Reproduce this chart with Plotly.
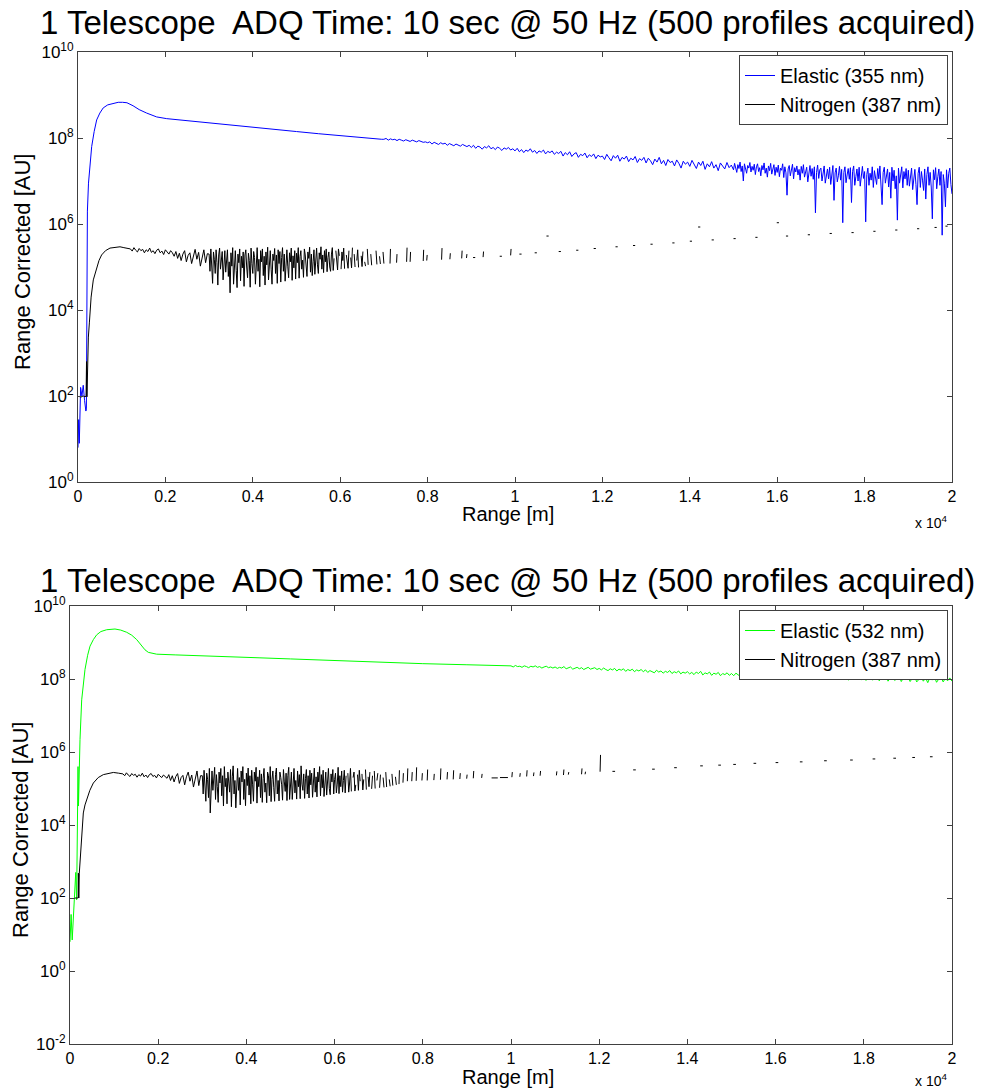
import plotly.graph_objects as go

FONT = "Liberation Sans, Arial, sans-serif"
PAGE_OFFSET = 8                    # default body margin of the html page
FIG_W, FIG_H = 983 - PAGE_OFFSET, 1090 - PAGE_OFFSET

# ---------------- data ----------------
title_text = "1 Telescope\u00a0 ADQ Time: 10 sec @ 50 Hz (500 profiles acquired)"
x_tick_vals = [0, 2000, 4000, 6000, 8000, 10000, 12000, 14000, 16000, 18000, 20000]
x_tick_text = ["0", "0.2", "0.4", "0.6", "0.8", "1", "1.2", "1.4", "1.6", "1.8", "2"]
top_y_tick_exponents = [0, 2, 4, 6, 8, 10]
bottom_y_tick_exponents = [-2, 0, 2, 4, 6, 8, 10]

# all signal values are log10(Range Corrected [AU]); ranges in metres
# ---- top panel: Elastic 355 nm ----
elastic355_near_range = [0, 15, 30, 60, 90, 120, 150, 180, 192, 200,
                         215, 240, 275, 313, 370, 427, 500, 577, 680, 807,
                         920, 1020, 1120, 1260, 1400, 1570, 1700, 1800, 2030, 2500,
                         3000, 3500, 4000, 4500, 5000, 5500, 6000, 6500, 6950]
elastic355_near_log10 = [0.80, 1.45, 0.90, 2.20, 2.00, 2.25, 1.90, 1.65, 1.70, 5.60,
                         6.30, 6.95, 7.40, 7.80, 8.15, 8.42, 8.58, 8.70, 8.77, 8.81,
                         8.83, 8.83, 8.82, 8.75, 8.66, 8.58, 8.52, 8.49, 8.45, 8.40,
                         8.35, 8.30, 8.25, 8.20, 8.15, 8.10, 8.05, 8.01, 7.97]
elastic355_mid_start, elastic355_mid_step = 7000, 50
elastic355_mid_log10 = [
    7.97, 7.99, 7.95, 7.98, 7.96, 7.97, 7.94, 7.97, 7.95, 7.93, 7.96, 7.94, 7.92, 7.95, 7.93, 7.91, 7.94, 7.92, 7.90, 7.91,
    7.89, 7.91, 7.86, 7.90, 7.87, 7.85, 7.89, 7.86, 7.88, 7.83, 7.87, 7.85, 7.82, 7.86, 7.84, 7.81, 7.85, 7.82, 7.80, 7.83,
    7.78, 7.83, 7.76, 7.81, 7.79, 7.74, 7.80, 7.77, 7.82, 7.75, 7.78, 7.73, 7.79, 7.76, 7.71, 7.77, 7.74, 7.78, 7.72, 7.75,
    7.70, 7.76, 7.68, 7.73, 7.66, 7.72, 7.69, 7.75, 7.67, 7.71, 7.64, 7.70, 7.67, 7.72, 7.63, 7.69, 7.66, 7.70, 7.62, 7.67,
    7.64, 7.69, 7.58, 7.66, 7.61, 7.68, 7.57, 7.63, 7.66, 7.55, 7.62, 7.59, 7.65, 7.54, 7.61, 7.57, 7.63, 7.52, 7.60, 7.56,
    7.58, 7.50, 7.62, 7.54, 7.47, 7.59, 7.53, 7.60, 7.46, 7.55, 7.51, 7.58, 7.45, 7.53, 7.49, 7.57, 7.43, 7.52, 7.48, 7.55,
    7.42, 7.53, 7.47, 7.38, 7.51, 7.44, 7.55, 7.40, 7.48, 7.36, 7.50, 7.43, 7.46, 7.35, 7.49, 7.41, 7.30, 7.46, 7.39, 7.44,
    7.34, 7.48, 7.38, 7.29, 7.44, 7.36, 7.46, 7.27, 7.40, 7.33, 7.45, 7.30, 7.38, 7.24, 7.42, 7.35, 7.28, 7.43, 7.31, 7.37]
elastic355_far_start, elastic355_far_step = 15000, 25
elastic355_far_log10 = [
    7.26, 7.41, 7.32, 7.20, 7.38, 7.29, 7.44, 7.22, 7.35, 7.00, 7.40, 7.27, 7.18, 7.36, 7.30, 7.43, 7.21, 7.34, 7.25, 7.39,
    7.15, 7.33, 7.40, 7.22, 7.31, 7.12, 7.36, 7.26, 7.42, 7.18, 7.30, 7.09, 7.35, 7.24, 7.41, 7.16, 7.28, 7.38, 7.13, 7.32,
    7.20, 7.37, 7.10, 7.30, 7.25, 7.40, 7.08, 7.33, 7.19, 6.67, 7.28, 7.36, 7.12, 7.24, 7.39, 7.05, 7.31, 7.21, 7.35, 7.14,
    7.27, 7.02, 7.34, 7.18, 7.38, 7.09, 7.25, 7.32, 6.98, 7.22, 7.36, 7.11, 7.29, 7.04, 7.33, 6.26, 7.20, 7.37, 7.06, 7.26,
    7.30, 7.00, 7.21, 7.35, 6.95, 7.15, 7.28, 7.05, 7.32, 6.92, 7.24, 7.36, 6.55, 7.19, 7.30, 6.98, 7.12, 7.34, 7.02, 7.27,
    6.03, 7.20, 7.33, 6.96, 7.14, 7.29, 7.04, 7.31, 6.50, 7.22, 7.35, 6.90, 7.10, 7.28, 7.00, 7.32, 6.88, 7.18, 7.34, 7.06,
    7.22, 6.05, 7.15, 7.30, 6.90, 7.18, 7.02, 7.33, 6.85, 7.24, 7.10, 6.92, 7.29, 7.05, 7.35, 6.88, 6.45, 7.20, 7.32, 6.95,
    7.14, 7.28, 6.86, 7.20, 6.60, 7.32, 7.00, 7.25, 6.82, 7.12, 6.09, 7.30, 6.95, 7.18, 7.33, 6.84, 7.22, 7.05, 7.29, 6.90,
    7.25, 6.88, 7.12, 7.30, 6.80, 7.08, 7.27, 6.92, 6.45, 7.18, 7.32, 6.85, 7.22, 7.02, 6.78, 7.28, 6.58, 7.15, 7.33, 6.90,
    7.20, 6.86, 6.12, 7.26, 7.03, 7.31, 6.82, 7.10, 7.28, 6.90, 7.22, 5.74, 7.15, 6.95, 6.40, 7.26, 6.84, 7.18, 7.30, 6.92,
    6.70]

# ---- top panel: Nitrogen 387 nm ----
nitrogen387_top_near_range = [40, 80, 120, 160, 185, 195, 205, 220, 237, 260, 275,
                              300, 350, 427, 480, 540, 630, 732, 850, 961, 1050, 1150]
nitrogen387_top_near_log10 = [1.98, 1.98, 2.00, 1.98, 2.00, 2.80, 1.98, 2.90, 3.37, 3.70, 3.93,
                              4.30, 4.70, 5.00, 5.15, 5.28, 5.38, 5.44, 5.46, 5.47, 5.45, 5.43]
nitrogen387_top_mid_start, nitrogen387_top_mid_step = 1200, 40
nitrogen387_top_mid_log10 = [
    5.42, 5.37, 5.45, 5.39, 5.35, 5.43, 5.38, 5.41, 5.33, 5.40, 5.36, 5.44, 5.34, 5.38, 5.31, 5.39, 5.42, 5.33, 5.37, 5.29, 5.40, 5.35, 5.30, 5.38, 5.33,
    5.25, 5.36, 5.20, 5.32, 5.15, 5.30, 5.38, 5.12, 5.27, 5.33, 5.08, 5.29, 5.41, 5.18, 5.34, 5.02, 5.25, 5.40, 5.10, 5.31]
nitrogen387_top_far_start, nitrogen387_top_far_step = 3000, 20
nitrogen387_top_far_log10 = [
    5.30, 4.90, 5.42, 5.05, 4.62, 5.35, 5.18, 4.85, 5.40, 5.10, 4.58, 5.28, 5.44, 4.95, 5.22, 5.36, 4.70, 5.15, 5.38, 4.88,
    5.25, 5.40, 4.78, 5.12, 4.40, 5.33, 5.02, 5.45, 4.60, 5.20, 5.38, 4.92, 4.52, 5.30, 5.10, 5.42, 4.68, 5.25, 4.98, 5.35,
    4.55, 5.28, 5.40, 5.00, 4.75, 5.32, 5.15, 4.53, 5.44, 5.08, 4.85, 5.36, 5.22, 4.60, 5.30, 5.45, 4.90, 5.18, 4.54, 5.38,
    5.12, 5.42, 4.80, 5.25, 4.58, 5.35, 5.05, 5.46, 4.70, 5.20, 5.38, 4.95, 4.60, 5.30, 5.15, 5.43, 4.85, 5.28, 4.62, 5.40,
    5.08, 5.36, 4.65, 5.22, 5.45, 4.90, 5.30, 4.67, 5.18, 5.40, 5.02, 4.75, 5.33, 5.12, 5.44, 4.69, 5.26, 4.98, 5.38, 4.72,
    5.32, 5.10, 5.45, 4.74, 5.24, 5.38, 4.95, 5.16, 4.76, 5.42, 5.28, 5.02, 4.78, 5.35, 5.20, 5.46, 4.88, 5.30, 4.80, 5.12,
    5.40, 4.83, 5.25, 5.44, 5.05, 4.85, 5.33, 5.18, 5.47, 4.95, 5.28, 4.87, 5.38, 5.12, 5.42, 4.89, 5.22, 5.35, 5.00, 4.90,
    5.30, 5.45, 4.92, 5.20, None, 5.38, 5.08, 4.93, 5.42, 5.26, None, 4.95, 5.35, 5.15, 5.44, 4.96, None, 5.28, 5.10, 4.97,
    5.38, None, 5.22, 4.98, 5.45, None, 5.30, 5.00, None, 5.15, 5.40, 4.99, None, None, 5.26, 5.01, 5.36, None, 5.12, 5.02,
    None, 5.42, 5.05, None, None, 5.30, 5.04, None, 5.20, None, None, 5.38, 5.06, None, None, 5.25, 5.07, None, None, 5.35,
    5.08]
# isolated short pieces left beyond the noisy range: start/end range and start/end value
nitrogen387_top_piece_r0 = [7140, 7290, 7520, 7600, 7900, 7980, 8320, 8510, 8780, 8890, 9040, 9270, 9650, 9900,
                            10100, 10450, 10720, 11000, 11400, 11800, 12300, 12700, 13100, 13600, 14000, 14190,
                            14500, 15000, 15500, 15990, 16200, 16700, 17200, 17700, 18200, 18700, 19200, 19600, 19850]
nitrogen387_top_piece_r1 = [7150, 7300, 7530, 7610, 7910, 7990, 8330, 8520, 8790, 8900, 9090, 9280, 9700, 9910,
                            10150, 10500, 10770, 11050, 11450, 11850, 12350, 12750, 13150, 13650, 14050, 14240,
                            14550, 15050, 15550, 16040, 16250, 16750, 17250, 17750, 18250, 18750, 19250, 19650, 19900]
nitrogen387_top_piece_v0 = [5.08, 5.10, 5.12, 5.12, 5.14, 5.15, 5.17, 5.18, 5.20, 5.21, 5.22, 5.23, 5.25, 5.27,
                            5.30, 5.33, 5.72, 5.36, 5.39, 5.43, 5.47, 5.50, 5.53, 5.56, 5.60, 5.93,
                            5.63, 5.66, 5.69, 6.03, 5.72, 5.75, 5.78, 5.80, 5.83, 5.86, 5.89, 5.92, 5.95]
nitrogen387_top_piece_v1 = [5.42, 5.30, 5.45, 5.35, 5.40, 5.28, 5.44, 5.32, 5.38, 5.30, 5.22, 5.36, 5.25, 5.42,
                            5.30, 5.33, 5.72, 5.36, 5.39, 5.43, 5.47, 5.50, 5.53, 5.56, 5.60, 5.93,
                            5.63, 5.66, 5.69, 6.03, 5.72, 5.75, 5.78, 5.80, 5.83, 5.86, 5.89, 5.92, 5.95]

# ---- bottom panel: Elastic 532 nm ----
elastic532_near_range = [0, 25, 50, 110, 130, 150, 170, 182, 192, 215,
                         227, 265, 300, 340, 400, 454, 530, 605, 700, 832,
                         1020, 1150, 1285, 1400, 1512, 1626, 1700, 1776, 1870, 1965,
                         2400, 2796, 3500, 4308, 5000, 5800, 6576, 7200, 8000, 9000, 9950]
elastic532_near_log10 = [0.80, 1.55, 0.85, 2.00, 2.70, 1.95, 4.50, 5.60, 4.52, 6.00,
                         6.34, 7.43, 7.90, 8.26, 8.65, 8.90, 9.08, 9.21, 9.30, 9.35,
                         9.37, 9.34, 9.28, 9.20, 9.08, 8.90, 8.80, 8.73, 8.70, 8.68,
                         8.66, 8.64, 8.61, 8.58, 8.55, 8.51, 8.48, 8.45, 8.42, 8.39, 8.35]
elastic532_far_start, elastic532_far_step = 10000, 50
elastic532_far_log10 = [
    8.36, 8.33, 8.37, 8.34, 8.35, 8.32, 8.36, 8.34, 8.31, 8.35, 8.33, 8.36, 8.32, 8.34, 8.30, 8.33, 8.35, 8.31, 8.33, 8.30,
    8.33, 8.29, 8.32, 8.30, 8.34, 8.28, 8.31, 8.33, 8.27, 8.30, 8.32, 8.28, 8.31, 8.26, 8.30, 8.32, 8.27, 8.29, 8.31, 8.26,
    8.29, 8.25, 8.30, 8.26, 8.23, 8.28, 8.25, 8.29, 8.22, 8.27, 8.24, 8.28, 8.21, 8.26, 8.23, 8.27, 8.20, 8.25, 8.22, 8.26,
    8.20, 8.25, 8.18, 8.23, 8.21, 8.17, 8.24, 8.19, 8.22, 8.16, 8.21, 8.18, 8.23, 8.15, 8.20, 8.17, 8.22, 8.14, 8.19, 8.16,
    8.20, 8.14, 8.18, 8.12, 8.19, 8.15, 8.21, 8.11, 8.17, 8.14, 8.19, 8.10, 8.16, 8.13, 8.18, 8.09, 8.15, 8.12, 8.17, 8.10,
    8.15, 8.09, 8.16, 8.11, 8.07, 8.14, 8.10, 8.17, 8.08, 8.13, 8.06, 8.12, 8.09, 8.15, 8.05, 8.11, 8.08, 8.14, 8.06, 8.10,
    8.13, 8.04, 8.10, 8.07, 8.14, 8.03, 8.09, 8.12, 8.02, 8.08, 8.05, 8.13, 8.01, 8.09, 8.06, 8.12, 8.02, 8.07, 8.11, 8.03,
    8.10, 8.00, 8.07, 8.12, 7.99, 8.05, 8.09, 8.01, 8.11, 7.98, 8.06, 8.03, 8.10, 7.97, 8.04, 8.08, 7.99, 8.09, 8.02, 7.98,
    8.08, 7.96, 8.04, 8.09, 7.97, 8.02, 8.07, 7.95, 8.05, 8.00, 8.08, 7.94, 8.03, 8.06, 7.96, 8.01, 8.07, 7.93, 8.04, 7.98,
    8.06, 7.93, 8.02, 8.07, 7.92, 7.99, 8.05, 7.94, 8.03, 7.90, 8.04, 7.97, 8.06, 7.91, 8.00, 8.05, 7.92, 8.02, 7.95, 8.03,
    7.94]

# ---- bottom panel: Nitrogen 387 nm ----
nitrogen387_bot_near_range = [110, 150, 185, 190, 200, 211, 249, 275, 302, 340,
                              378, 450, 529, 640, 756, 870, 983, 1100]
nitrogen387_bot_near_log10 = [2.00, 2.00, 2.00, 2.68, 2.00, 2.68, 3.50, 3.95, 4.33, 4.55,
                              4.69, 4.95, 5.15, 5.30, 5.38, 5.42, 5.44, 5.42]
nitrogen387_bot_mid_start, nitrogen387_bot_mid_step = 1200, 40
nitrogen387_bot_mid_log10 = [
    5.40, 5.35, 5.43, 5.37, 5.33, 5.41, 5.36, 5.39, 5.31, 5.38, 5.34, 5.42, 5.32, 5.37, 5.30, 5.38, 5.41, 5.33, 5.36, 5.29, 5.39, 5.34, 5.30, 5.37, 5.32,
    5.28, 5.38, 5.22, 5.35, 5.18, 5.33, 5.41, 5.14, 5.30, 5.36, 5.10, 5.32, 5.45, 5.20, 5.37, 5.04, 5.28, 5.48, 5.08, 5.35]
nitrogen387_bot_far_start, nitrogen387_bot_far_step = 3000, 20
nitrogen387_bot_far_log10 = [
    5.35, 4.85, 5.50, 5.10, 4.65, 5.42, 5.25, 4.75, 5.55, 4.33, 5.30, 5.48, 4.95, 5.20, 5.58, 4.70, 5.38, 5.05, 4.62, 5.45,
    5.15, 5.55, 4.80, 5.35, 4.52, 5.60, 5.05, 5.28, 4.58, 5.45, 5.12, 4.90, 5.52, 4.50, 5.32, 5.62, 4.85, 5.22, 4.47, 5.40,
    5.55, 4.95, 5.30, 4.55, 5.48, 5.18, 5.60, 4.70, 5.25, 4.53, 5.42, 5.08, 5.56, 4.82, 5.35, 4.58, 5.50, 5.12, 4.65, 5.45,
    5.20, 5.58, 4.60, 5.32, 5.05, 5.50, 4.75, 5.40, 4.62, 5.28, 5.55, 4.90, 5.15, 4.61, 5.45, 5.35, 4.80, 5.60, 4.64, 5.25,
    5.48, 5.02, 4.65, 5.38, 5.56, 4.85, 5.22, 4.66, 5.45, 5.30, 5.10, 4.68, 5.52, 5.18, 4.92, 5.42, 4.67, 5.35, 5.58, 4.70,
    5.15, 5.45, 4.70, 5.30, 5.55, 4.88, 5.22, 4.71, 5.48, 5.05, 5.38, 4.72, 5.62, 5.12, 4.95, 5.40, 4.73, 5.28, 5.52, 4.85,
    5.35, 4.74, 5.50, 5.10, 5.42, 4.76, 5.25, 5.56, 4.90, 5.32, 4.77, 5.45, 5.18, 5.60, 4.80, 5.38, 5.02, 5.50, 4.78, 5.28,
    5.45, 4.82, 5.30, 5.55, 5.00, 4.83, 5.40, 5.18, 5.52, 4.85, 5.25, 5.42, 4.88, 5.12, 5.58, 4.86, 5.35, 5.05, 5.48, 4.90,
    5.22, 5.50, 4.88, 5.35, None, 5.42, 4.90, 5.15, 5.55, 4.92, None, 5.30, 5.45, 4.93, 5.10, None, 5.38, 4.95, 5.50, 5.20,
    None, 5.40, 4.96, 5.25, None, 5.52, 4.97, None, 5.32, 5.05, 5.45, None, 4.99, 5.35, None, 5.48, 5.00, None, 5.22, 5.42,
    None, 5.02, 5.38, None, None, 5.30, 5.03, None, 5.45, 5.04, None, None, 5.25, 5.06, None, 5.40, 5.08, None, None, 5.32,
    5.10]
nitrogen387_bot_piece_r0 = [7460, 7550, 7650, 7750, 7850, 7980, 8100, 8250, 8400, 8550, 8690, 8840, 8995, 9145, 9335, 9560, 9750,
                            10020, 10200, 10355, 10510, 10660, 11030, 11190, 11300, 11600, 11680, 12020,
                            12300, 12770, 13200, 13700, 14290, 14700, 15040, 15500, 16000, 16550, 17100, 17690,
                            18200, 18670, 19100, 19500]
nitrogen387_bot_piece_r1 = [7470, 7560, 7660, 7760, 7860, 7990, 8110, 8260, 8410, 8560, 8700, 8850, 9005, 9155, 9345, 9700, 9930,
                            10030, 10210, 10365, 10520, 10670, 11040, 11200, 11310, 11610, 11690, 12030,
                            12360, 12830, 13260, 13760, 14350, 14760, 15100, 15560, 16060, 16610, 17160, 17750,
                            18260, 18730, 19160, 19560]
nitrogen387_bot_piece_v0 = [5.12, 5.16, 5.20, 5.20, 5.21, 5.22, 5.22, 5.23, 5.24, 5.25, 5.25, 5.26, 5.27, 5.28, 5.29, 5.29, 5.30,
                            5.31, 5.32, 5.33, 5.34, 5.35, 5.36, 5.37, 5.38, 5.39, 5.39, 5.46,
                            5.47, 5.51, 5.53, 5.57, 5.62, 5.64, 5.66, 5.69, 5.71, 5.73, 5.76, 5.78,
                            5.81, 5.83, 5.85, 5.87]
nitrogen387_bot_piece_v1 = [5.50, 5.42, 5.55, 5.45, 5.58, 5.42, 5.52, 5.40, 5.55, 5.45, 5.50, 5.42, 5.38, 5.48, 5.40, 5.29, 5.30,
                            5.45, 5.42, 5.50, 5.44, 5.48, 5.47, 5.52, 5.45, 5.55, 5.46, 5.92,
                            5.47, 5.51, 5.53, 5.57, 5.62, 5.64, 5.66, 5.69, 5.71, 5.73, 5.76, 5.78,
                            5.81, 5.83, 5.85, 5.87]


# ---------------- helpers ----------------
def to_au(v):
    return None if v is None else 10 ** v


def build_series(near_r, near_v, sampled, pieces=((), (), (), ())):
    """near field points + regularly sampled blocks (start, step, values) + short pieces"""
    xs = list(near_r)
    ys = [to_au(v) for v in near_v]
    for start, step, vals in sampled:
        xs += [start + i * step for i in range(len(vals))]
        ys += [to_au(v) for v in vals]
    for r0, r1, v0, v1 in zip(*pieces):
        xs += [None, r0, r1]
        ys += [None, to_au(v0), to_au(v1)]
    return xs, ys


def px(x):   # screen pixel -> paper fraction
    return (x - PAGE_OFFSET) / FIG_W


def py(y):
    return 1 - (y - PAGE_OFFSET) / FIG_H


bx, by = build_series(elastic355_near_range, elastic355_near_log10,
                      [(elastic355_mid_start, elastic355_mid_step, elastic355_mid_log10),
                       (elastic355_far_start, elastic355_far_step, elastic355_far_log10)])
nx, ny = build_series(nitrogen387_top_near_range, nitrogen387_top_near_log10,
                      [(nitrogen387_top_mid_start, nitrogen387_top_mid_step, nitrogen387_top_mid_log10),
                       (nitrogen387_top_far_start, nitrogen387_top_far_step, nitrogen387_top_far_log10)],
                      (nitrogen387_top_piece_r0, nitrogen387_top_piece_r1,
                       nitrogen387_top_piece_v0, nitrogen387_top_piece_v1))
gx, gy = build_series(elastic532_near_range, elastic532_near_log10,
                      [(elastic532_far_start, elastic532_far_step, elastic532_far_log10)])
mx, my = build_series(nitrogen387_bot_near_range, nitrogen387_bot_near_log10,
                      [(nitrogen387_bot_mid_start, nitrogen387_bot_mid_step, nitrogen387_bot_mid_log10),
                       (nitrogen387_bot_far_start, nitrogen387_bot_far_step, nitrogen387_bot_far_log10)],
                      (nitrogen387_bot_piece_r0, nitrogen387_bot_piece_r1,
                       nitrogen387_bot_piece_v0, nitrogen387_bot_piece_v1))

fig = go.Figure()
fig.add_trace(go.Scatter(x=bx, y=by, mode="lines", name="Elastic (355 nm)",
                         line=dict(color="#0000ff", width=1), xaxis="x", yaxis="y",
                         legend="legend", connectgaps=False))
fig.add_trace(go.Scatter(x=nx, y=ny, mode="lines", name="Nitrogen (387 nm)",
                         line=dict(color="#000000", width=1), xaxis="x", yaxis="y",
                         legend="legend", connectgaps=False))
fig.add_trace(go.Scatter(x=gx, y=gy, mode="lines", name="Elastic (532 nm)",
                         line=dict(color="#00ff00", width=1), xaxis="x2", yaxis="y2",
                         legend="legend2", connectgaps=False))
fig.add_trace(go.Scatter(x=mx, y=my, mode="lines", name="Nitrogen (387 nm)",
                         line=dict(color="#000000", width=1), xaxis="x2", yaxis="y2",
                         legend="legend2", connectgaps=False))

AX = dict(showgrid=False, zeroline=False, showline=True, linecolor="#404040", linewidth=1,
          mirror="ticks", ticks="inside", ticklen=5, tickcolor="#404040")
XFONT = dict(family=FONT, size=16, color="black")
YFONT = dict(family=FONT, size=17, color="black")


def ylabels(exps):
    return [10.0 ** e for e in exps], [f"10<sup>{e}</sup>" for e in exps]


tv1, tt1 = ylabels(top_y_tick_exponents)
tv2, tt2 = ylabels(bottom_y_tick_exponents)

LEG = dict(xanchor="right", yanchor="top", bgcolor="white", bordercolor="#404040", borderwidth=1,
           font=dict(family=FONT, size=20, color="black"), tracegroupgap=0)

fig.update_layout(
    width=FIG_W, height=FIG_H,
    margin=dict(l=0, r=0, t=0, b=0, autoexpand=False),
    paper_bgcolor="white", plot_bgcolor="white",
    font=dict(family=FONT, color="black"),
    xaxis=dict(AX, domain=[px(78), px(952)], anchor="y", range=[0, 20000],
               tickvals=x_tick_vals, ticktext=x_tick_text, tickfont=XFONT),
    yaxis=dict(AX, domain=[py(482), py(52)], anchor="x", type="log", range=[0, 10],
               tickvals=tv1, ticktext=tt1, tickfont=YFONT),
    xaxis2=dict(AX, domain=[px(70), px(952)], anchor="y2", range=[0, 20000],
                tickvals=x_tick_vals, ticktext=x_tick_text, tickfont=XFONT),
    yaxis2=dict(AX, domain=[py(1044), py(606)], anchor="x2", type="log", range=[-2, 10],
                tickvals=tv2, ticktext=tt2, tickfont=YFONT),
    legend=dict(LEG, x=px(948), y=py(55)),
    legend2=dict(LEG, x=px(948), y=py(610)),
    showlegend=True,
)

ann = [
    dict(text=title_text, x=px(508), y=py(22), size=33),
    dict(text=title_text, x=px(508), y=py(580), size=33),
    dict(text="Range [m]", x=px(508), y=py(514), size=20),
    dict(text="Range [m]", x=px(508), y=py(1077), size=20),
    dict(text="x 10<sup>4</sup>", x=px(931), y=py(522), size=14),
    dict(text="x 10<sup>4</sup>", x=px(931), y=py(1080), size=14),
]
for a in ann:
    fig.add_annotation(text=a["text"], x=a["x"], y=a["y"], xref="paper", yref="paper",
                       xanchor="center", yanchor="middle", showarrow=False,
                       font=dict(family=FONT, size=a["size"], color="black"))
for (xx, yy) in [(23, 262), (20, 830)]:
    fig.add_annotation(text="Range Corrected [AU]", x=px(xx), y=py(yy), xref="paper", yref="paper",
                       xanchor="center", yanchor="middle", showarrow=False, textangle=-90,
                       font=dict(family=FONT, size=22, color="black"))

fig.write_html("out.html")
